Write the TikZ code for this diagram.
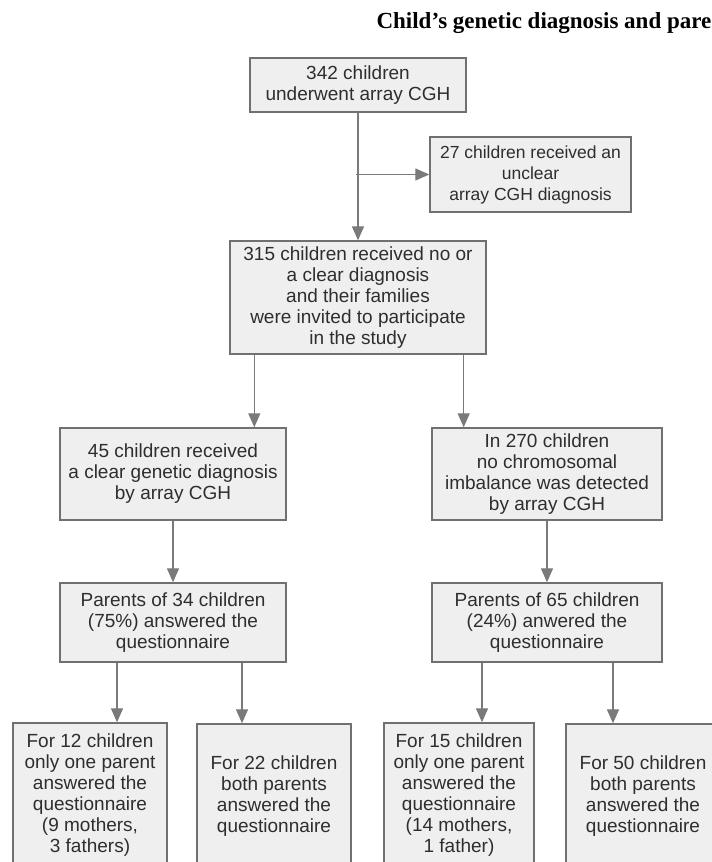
\documentclass[tikz,border=0pt]{standalone}
\usepackage{fontspec}
\setmainfont{Liberation Sans}
\newfontfamily\titlefont{Liberation Serif}
\usepackage{xcolor}
\usetikzlibrary{arrows.meta, positioning, calc}

\definecolor{boxfill}{HTML}{EFEFEF}
\definecolor{boxline}{HTML}{707070}
\definecolor{arrline}{HTML}{7A7A7A}
\definecolor{txt}{HTML}{2E2E2E}

\begin{document}
\begin{tikzpicture}[
  x=1pt, y=-1pt,
  box/.style={draw=boxline, line width=1.4pt, fill=boxfill, align=center,
              text=txt, inner sep=0pt, font=\fontsize{19}{21}\selectfont},
  arr/.style={-{Triangle[length=14pt, width=12pt]}, draw=arrline,
              fill=arrline, line width=1.3pt}
]
\useasboundingbox (0,0) rectangle (712,862);
\clip (0,0) rectangle (712,862);

\node[anchor=base west, font=\titlefont\bfseries\fontsize{23}{27}\selectfont, text=black]
  (title) at (373,28) {Child’s genetic diagnosis and pare};

\node[box, minimum width=216pt, minimum height=54pt] (all) at (358,85)
  {342 children\\underwent array CGH};
\node[box, minimum width=201pt, minimum height=75pt,
      font=\fontsize{17.5}{21}\selectfont] (unclear) at (530.5,174.5)
  {27 children received an\\unclear\\array CGH diagnosis};
\node[box, minimum width=256pt, minimum height=113pt] (invited) at (358,297.5)
  {315 children received no or\\a clear diagnosis\\and their families\\were invited to participate\\in the study};

\node[box, minimum width=226pt, minimum height=92pt] (clear) at (173,474)
  {45 children received\\a clear genetic diagnosis\\by array CGH};
\node[box, minimum width=230pt, minimum height=92pt] (normal) at (547,474)
  {In 270 children\\no chromosomal\\imbalance was detected\\by array CGH};

\node[box, minimum width=226pt, minimum height=79pt] (ansclear) at (173,622.5)
  {Parents of 34 children\\(75\%) answered the\\questionnaire};
\node[box, minimum width=230pt, minimum height=79pt] (ansnormal) at (547,622.5)
  {Parents of 65 children\\(24\%) anwered the\\questionnaire};

% bottom row, cut by the page edge
\node[box, minimum width=154pt, minimum height=144pt] (oneclear) at (90,795)
  {For 12 children\\only one parent\\answered the\\questionnaire\\(9 mothers,\\3 fathers)};
\node[box, minimum width=154pt, minimum height=144pt] (bothclear) at (274,796)
  {For 22 children\\both parents\\answered the\\questionnaire};
\node[box, minimum width=150pt, minimum height=144pt] (onenormal) at (459,795)
  {For 15 children\\only one parent\\answered the\\questionnaire\\(14 mothers,\\1 father)};
\node[box, minimum width=154pt, minimum height=144pt] (bothnormal) at (643,796)
  {For 50 children\\both parents\\answered the\\questionnaire};

\coordinate (split) at (all.south |- unclear.west);

\draw[arr] (all) -- (invited);
\draw[arr] ([xshift=-2pt]split) -- (unclear.west);

\draw[arr] ([xshift=25pt]invited.south west) -- ([xshift=25pt]invited.south west |- clear.north);
\draw[arr] ([xshift=-23pt]invited.south east) -- ([xshift=-23pt]invited.south east |- normal.north);

\draw[arr] (clear) -- (ansclear);
\draw[arr] (normal) -- (ansnormal);

\draw[arr] ([xshift=-56pt]ansclear.south) -- ([xshift=-56pt]ansclear.south |- oneclear.north);
\draw[arr] ([xshift=69pt]ansclear.south) -- ([xshift=69pt]ansclear.south |- bothclear.north);
\draw[arr] ([xshift=-65pt]ansnormal.south) -- ([xshift=-65pt]ansnormal.south |- onenormal.north);
\draw[arr] ([xshift=66pt]ansnormal.south) -- ([xshift=66pt]ansnormal.south |- bothnormal.north);
\end{tikzpicture}
\end{document}
